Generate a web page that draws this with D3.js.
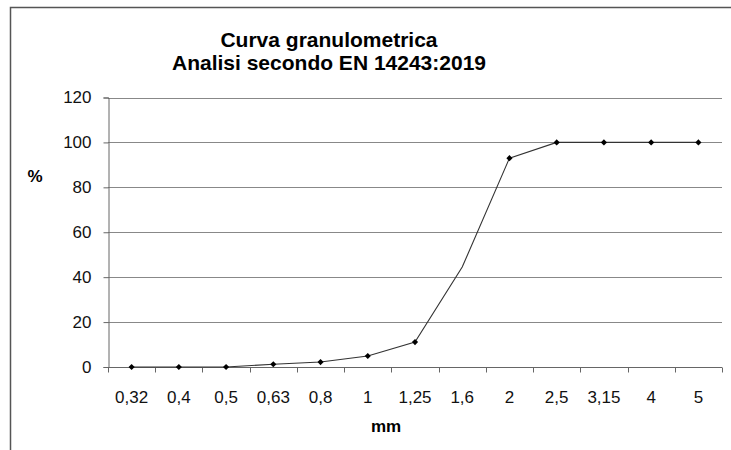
<!DOCTYPE html>
<html><head><meta charset="utf-8">
<script src="https://cdn.jsdelivr.net/npm/d3@7"></script>
<style>body{margin:0;background:#fff}svg{display:block}text{font-family:"Liberation Sans",Arial,sans-serif}</style>
</head><body><svg id="c" width="731" height="450"></svg>
<script>
const categories = ["0,32","0,4","0,5","0,63","0,8","1","1,25","1,6","2","2,5","3,15","4","5"];
const values = [0,0,0,1.2,2.2,4.9,11.1,44.5,93,100,100,100,100];
const showMarker = [true,true,true,true,true,true,true,false,true,true,true,true,true];
const yTicks = [0,20,40,60,80,100,120];
const titleLines = ["Curva granulometrica","Analisi secondo EN 14243:2019"];

const svg = d3.select("#c");
const L=108, R=722, T=97.5, B=367;
const x = d3.scaleBand().domain(categories).range([L,R]);
const y = d3.scaleLinear().domain([0,120]).range([B,T]);

// outer border
svg.append("path").attr("d","M10.5,450 V7.5 H731").attr("fill","none").attr("stroke","#555").attr("stroke-width",1.5);

// title
svg.selectAll("text.title").data(titleLines).join("text")
  .attr("x",329).attr("y",(d,i)=>47+i*23).attr("text-anchor","middle")
  .attr("font-size",21).attr("font-weight","bold").attr("fill","#000").text(d=>d);

// gridlines
svg.append("g").selectAll("line").data(yTicks.filter(d=>d>0)).join("line")
  .attr("x1",L).attr("x2",R).attr("y1",d=>Math.round(y(d))+0.5).attr("y2",d=>Math.round(y(d))+0.5)
  .attr("stroke","#888").attr("stroke-width",1);

// y axis
const ya = svg.append("g").attr("transform",`translate(${L+0.5},0)`)
  .call(d3.axisLeft(y).tickValues(yTicks).tickSize(5).tickPadding(12).tickFormat(d=>d));
ya.selectAll("text").attr("font-size",17).attr("fill","#111").attr("font-family","Liberation Sans, Arial, sans-serif");
ya.selectAll("line,path").attr("stroke","#666");

// x axis
const xa = svg.append("g").attr("transform",`translate(0,${B+0.5})`);
xa.append("line").attr("x1",L).attr("x2",R).attr("stroke","#666");
const bounds = categories.map(c=>x(c)).concat([R]);
xa.selectAll("line.t").data(bounds).join("line").attr("class","t")
  .attr("x1",d=>Math.round(d)+0.5).attr("x2",d=>Math.round(d)+0.5).attr("y1",0).attr("y2",5).attr("stroke","#666");
xa.selectAll("text").data(categories).join("text")
  .attr("x",d=>x(d)+x.bandwidth()/2).attr("y",35).attr("text-anchor","middle")
  .attr("font-size",17).attr("fill","#111").text(d=>d);

// axis titles
svg.append("text").attr("x",35).attr("y",182).attr("text-anchor","middle").attr("font-size",17).attr("font-weight","bold").text("%");
svg.append("text").attr("x",386).attr("y",432).attr("text-anchor","middle").attr("font-size",17).attr("font-weight","bold").text("mm");

// line
const pts = categories.map((c,i)=>({c,v:values[i],m:showMarker[i]}));
svg.append("path").datum(pts)
  .attr("d",d3.line().x(d=>x(d.c)+x.bandwidth()/2).y(d=>y(d.v)))
  .attr("fill","none").attr("stroke","#333").attr("stroke-width",1.1);

// markers
const diamond = d3.symbolDiamond2 || d3.symbolDiamond;
svg.append("g").selectAll("path").data(pts.filter(d=>d.m)).join("path")
  .attr("transform",d=>`translate(${x(d.c)+x.bandwidth()/2},${y(d.v)})`)
  .attr("d",d3.symbol().type(diamond).size(24))
  .attr("fill","#000");
</script></body></html>
